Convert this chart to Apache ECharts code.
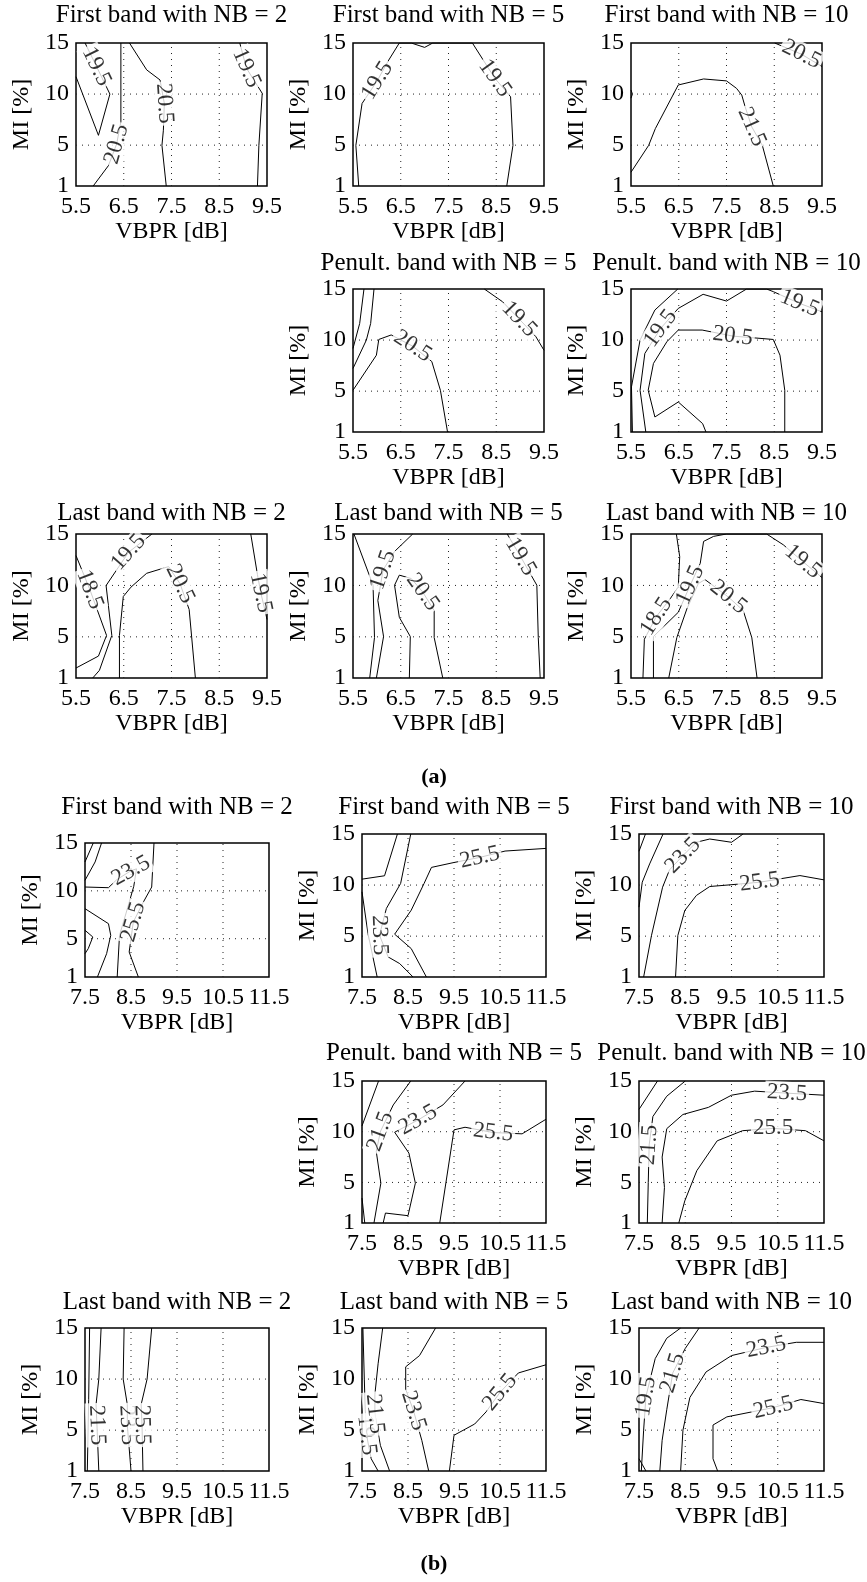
<!DOCTYPE html>
<html>
<head>
<meta charset="utf-8">
<script src="https://cdn.jsdelivr.net/npm/echarts@6/dist/echarts.min.js"></script>
<style>
  html, body { margin: 0; padding: 0; background: #fff; }
  #c { width: 867px; height: 1582px; }
</style>
</head>
<body>
<div id="c"></div>
<script>
// ---- tick values ----
const vbprTicksA = [5.5, 6.5, 7.5, 8.5, 9.5];
const vbprTicksB = [7.5, 8.5, 9.5, 10.5, 11.5];
const miTicks = [1, 5, 10, 15];

// ---- panel titles ----
const titlesA = ['First band with NB = 2', 'First band with NB = 5', 'First band with NB = 10',
                 'Penult. band with NB = 5', 'Penult. band with NB = 10',
                 'Last band with NB = 2', 'Last band with NB = 5', 'Last band with NB = 10'];
const titlesB = titlesA.slice();

// ---- contour lines: level, polyline [VBPR dB, MI %], indices of labelled vertices ----
// (a) first band
const aFirst2 = [
  { level: 19.5, lab: [3], pts: [[5.5, 11.7], [5.97, 5.96], [6.21, 10.0], [5.93, 12.7], [5.69, 15]] },
  { level: 20.5, lab: [2], pts: [[5.86, 1], [6.18, 3.0], [6.35, 5.1], [6.44, 7.28], [6.44, 15]] },
  { level: 20.5, lab: [3], pts: [[6.62, 15], [6.98, 12.37], [7.26, 11.38], [7.35, 9.08], [7.33, 6.46], [7.30, 4.98], [7.39, 1]] },
  { level: 19.5, lab: [1], pts: [[8.93, 15], [9.07, 12.53], [9.40, 10.07], [9.33, 4.98], [9.30, 1]] }
];
const aFirst5 = [
  { level: 19.5, lab: [3, 10], pts: [[5.62, 1], [5.56, 4.98], [5.69, 9.08], [6.01, 11.32], [6.23, 13.19], [6.47, 15], [6.72, 15], [7.0, 14.57], [7.17, 15], [8.0, 15], [8.47, 11.55], [8.80, 9.74], [8.85, 4.98], [8.72, 1]] }
];
const aFirst10 = [
  { level: 21.5, lab: [9], pts: [[5.5, 2.35], [5.87, 4.98], [6.01, 6.62], [6.49, 10.89], [7.02, 11.48], [7.50, 11.29], [7.71, 10.56], [7.82, 9.9], [7.89, 8.76], [8.03, 6.78], [8.25, 4.98], [8.48, 1]] },
  { level: 20.5, lab: [1], pts: [[8.51, 15], [9.07, 13.9], [9.5, 12.7]] },
  { level: 21.5, lab: [], pts: [[5.5, 10.4], [5.53, 10.0], [5.5, 9.6]] }
];
// (a) penultimate band
const aPenult5 = [
  { level: 18.5, lab: [], pts: [[5.5, 9.18], [5.64, 11.63], [5.73, 15]] },
  { level: 19.5, lab: [], pts: [[5.5, 7.22], [5.78, 10.0], [5.87, 11.63], [5.94, 15]] },
  { level: 20.5, lab: [4], pts: [[5.5, 5.09], [5.99, 8.52], [6.04, 10.06], [6.30, 10.5], [6.75, 9.4], [7.15, 7.9], [7.33, 5.09], [7.48, 1]] },
  { level: 19.5, lab: [2], pts: [[8.25, 15], [8.63, 13.76], [8.98, 12.06], [9.33, 10.33], [9.5, 9.0]] }
];
const aPenult10 = [
  { level: 18.5, lab: [], pts: [[5.53, 1], [5.51, 5.42], [5.69, 10.0], [6.0, 12.94], [6.48, 15]] },
  { level: 19.5, lab: [3, 10], pts: [[5.81, 1], [5.69, 5.09], [5.79, 8.69], [6.12, 11.14], [6.49, 13.1], [7.01, 14.48], [7.5, 13.82], [7.92, 15], [8.34, 15], [8.48, 14.74], [9.03, 13.59], [9.5, 12.77]] },
  { level: 20.5, lab: [9], pts: [[7.07, 1], [7.0, 1.82], [6.49, 3.94], [6.0, 2.47], [5.86, 5.09], [5.97, 7.71], [6.25, 9.83], [6.49, 10.98], [6.99, 10.98], [7.63, 10.39], [8.48, 10.06], [8.62, 8.52], [8.72, 5.09], [8.72, 1]] }
];
// (a) last band
const aLast2 = [
  { level: 18.5, lab: [1], pts: [[5.5, 12.9], [5.79, 9.6], [6.14, 5.14], [5.97, 3.13], [5.5, 1.97]] },
  { level: 19.5, lab: [4], pts: [[5.85, 1], [5.99, 1.74], [6.25, 5.14], [6.13, 9.99], [6.6, 13.22], [7.09, 15]] },
  { level: 20.5, lab: [6], pts: [[6.41, 1], [6.41, 5.14], [6.49, 8.92], [6.65, 9.83], [6.98, 11.18], [7.44, 11.83], [7.68, 10.15], [7.87, 7.66], [8.0, 1]] },
  { level: 19.5, lab: [2], pts: [[9.16, 15], [9.30, 11.05], [9.37, 9.28], [9.47, 7.34], [9.5, 6.69]] }
];
const aLast5 = [
  { level: 18.5, lab: [], pts: [[5.52, 15], [5.92, 10.02], [5.95, 4.93], [5.85, 1]] },
  { level: 19.5, lab: [3], pts: [[5.99, 1], [6.14, 5.03], [6.02, 8.54], [6.13, 11.5], [6.37, 13.3], [6.75, 15]] },
  { level: 20.5, lab: [6], pts: [[6.68, 1], [6.70, 5.03], [6.47, 6.9], [6.37, 10.02], [6.47, 11.0], [6.72, 10.67], [6.96, 9.36], [7.20, 7.56], [7.20, 4.93], [7.38, 1]] },
  { level: 19.5, lab: [1], pts: [[8.73, 15], [9.01, 12.8], [9.35, 10.02], [9.38, 4.93], [9.42, 1]] }
];
const aLast10 = [
  { level: 18.5, lab: [2], pts: [[5.75, 1], [5.78, 4.77], [6.03, 6.97], [6.32, 8.7], [6.49, 9.85], [6.52, 12.8], [6.45, 15]] },
  { level: 19.5, lab: [3, 10], pts: [[5.97, 1], [5.97, 5.03], [6.49, 7.39], [6.74, 10.02], [6.95, 12.15], [7.02, 14.28], [7.23, 14.77], [7.5, 15], [8.34, 15], [8.69, 13.95], [9.1, 12.31], [9.5, 10.77]] },
  { level: 20.5, lab: [5], pts: [[6.29, 1], [6.46, 4.93], [6.67, 7.72], [6.91, 10.18], [7.05, 10.57], [7.54, 8.87], [7.85, 7.56], [8.03, 4.93], [8.14, 1]] }
];

// (b) first band
const bFirst2 = [
  { level: 19.5, lab: [], pts: [[7.5, 13.02], [7.68, 15]] },
  { level: 21.5, lab: [], pts: [[7.5, 11.1], [7.72, 13.02], [7.86, 15]] },
  { level: 23.5, lab: [3], pts: [[7.5, 10.4], [8.01, 10.33], [8.19, 11.17], [8.5, 12.1], [8.62, 12.3], [8.56, 10.47], [8.40, 7.79], [8.25, 5.35], [8.2, 1]] },
  { level: 25.5, lab: [3], pts: [[9.0, 15], [8.95, 10.4], [8.77, 8.84], [8.55, 6.75], [8.46, 3.61], [8.66, 1]] },
  { level: 21.5, lab: [], pts: [[7.5, 8.14], [8.01, 6.57], [8.06, 5.35], [7.97, 3.44], [7.77, 1]] },
  { level: 19.5, lab: [], pts: [[7.5, 5.88], [7.67, 5.18], [7.57, 3.96], [7.5, 3.44]] }
];
const bFirst5 = [
  { level: 21.5, lab: [], pts: [[7.5, 10.58], [7.99, 10.91], [8.27, 15]] },
  { level: 23.5, lab: [3], pts: [[8.56, 15], [8.34, 10.16], [8.03, 7.71], [7.88, 5.09], [8.07, 2.96], [8.32, 2.31], [8.61, 1]] },
  { level: 25.5, lab: [2], pts: [[11.5, 13.59], [10.61, 13.33], [10.06, 12.71], [9.48, 12.19], [9.01, 11.73], [8.85, 10.16], [8.57, 7.54], [8.21, 5.19], [8.57, 3.78], [8.9, 1]] },
  { level: 19.5, lab: [], pts: [[7.5, 9.34], [7.63, 5.25], [7.83, 1]] }
];
const bFirst10 = [
  { level: 19.5, lab: [], pts: [[7.5, 13.31], [7.64, 15]] },
  { level: 21.5, lab: [], pts: [[7.5, 7.84], [7.57, 10.28], [7.73, 12.07], [8.02, 15]] },
  { level: 23.5, lab: [4], pts: [[7.6, 1], [7.77, 5.07], [8.01, 9.79], [8.16, 11.49], [8.45, 12.89], [8.74, 14.19], [9.03, 14.51], [9.5, 14.19], [9.75, 15]] },
  { level: 25.5, lab: [6], pts: [[8.29, 1], [8.34, 5.07], [8.49, 7.51], [8.74, 8.98], [9.03, 9.86], [9.46, 10.02], [10.11, 10.28], [10.98, 10.93], [11.5, 10.51]] }
];
// (b) penultimate band
const bPenult5 = [
  { level: 19.5, lab: [], pts: [[7.5, 10.57], [7.86, 15]] },
  { level: 19.5, lab: [], pts: [[7.5, 3.46], [7.56, 1]] },
  { level: 21.5, lab: [3], pts: [[7.76, 1], [7.91, 4.93], [7.81, 8.05], [7.9, 10.02], [8.18, 12.64], [8.56, 15]] },
  { level: 23.5, lab: [6], pts: [[7.96, 1], [8.01, 1.98], [8.5, 1.72], [8.66, 4.93], [8.52, 7.89], [8.21, 9.95], [8.72, 11.16], [9.26, 12.64], [9.74, 15]] },
  { level: 25.5, lab: [3], pts: [[9.19, 1], [9.5, 10.18], [9.74, 10.44], [10.35, 9.92], [10.98, 9.79], [11.5, 11.23]] }
];
const bPenult10 = [
  { level: 19.5, lab: [], pts: [[7.5, 12.2], [7.9, 15]] },
  { level: 21.5, lab: [2], pts: [[7.68, 1], [7.7, 5], [7.72, 8.7], [7.8, 11.5], [8.1, 13.5], [8.5, 15]] },
  { level: 23.5, lab: [8], pts: [[8.0, 1], [8.05, 4.5], [8.0, 7.5], [8.1, 10.3], [8.45, 11.7], [9.0, 12.4], [9.5, 13.6], [10.0, 14.0], [10.7, 13.8], [11.5, 13.6]] },
  { level: 25.5, lab: [5], pts: [[8.36, 1], [8.49, 3.18], [8.75, 6.16], [9.19, 9.1], [9.74, 10.1], [10.4, 10.33], [11.1, 10.1], [11.5, 9.1]] }
];
// (b) last band
const bLast2 = [
  { level: 19.5, lab: [], pts: [[7.6, 15], [7.58, 8], [7.55, 1]] },
  { level: 21.5, lab: [3], pts: [[7.85, 15], [7.8, 10], [7.74, 7.5], [7.76, 5.5], [7.8, 1]] },
  { level: 23.5, lab: [3], pts: [[8.35, 15], [8.33, 10], [8.42, 7.5], [8.42, 5.5], [8.5, 1]] },
  { level: 25.5, lab: [3], pts: [[8.95, 15], [8.85, 10], [8.72, 7.5], [8.74, 5.5], [8.76, 1]] }
];
const bLast5 = [
  { level: 19.5, lab: [3], pts: [[7.52, 15], [7.55, 10], [7.57, 7], [7.6, 4.5], [7.7, 2.2], [7.85, 1]] },
  { level: 21.5, lab: [3], pts: [[7.95, 15], [7.85, 11.5], [7.78, 8.5], [7.78, 6.6], [7.9, 3.5], [8.1, 1]] },
  { level: 23.5, lab: [4], pts: [[9.1, 15], [8.75, 12.3], [8.45, 11.2], [8.45, 9], [8.62, 6.9], [8.8, 4], [8.95, 1]] },
  { level: 25.5, lab: [4], pts: [[9.4, 1], [9.5, 4.5], [9.95, 5.6], [10.2, 6.8], [10.5, 8.7], [10.9, 10.6], [11.5, 11.4]] }
];
const bLast10 = [
  { level: 19.5, lab: [2], pts: [[7.55, 1], [7.6, 5], [7.65, 8.3], [7.85, 12], [8.1, 14], [8.4, 15]] },
  { level: 21.5, lab: [3], pts: [[7.95, 1], [8.0, 4], [8.1, 7], [8.23, 10.6], [8.5, 13], [8.8, 15]] },
  { level: 17.5, lab: [], pts: [[7.5, 2.2], [7.65, 1]] },
  { level: 23.5, lab: [5], pts: [[8.4, 1], [8.45, 5], [8.6, 8.2], [8.95, 10.7], [9.5, 12.3], [10.25, 13.1], [10.9, 13.6], [11.5, 13.6]] },
  { level: 25.5, lab: [4], pts: [[9.2, 1], [9.1, 2.2], [9.1, 5.5], [9.4, 6.3], [10.4, 7.2], [11.0, 8.0], [11.5, 7.6]] }
];

// ---- layout: [left, top, width, height] of each plot box, title centre y ----
const FONT = '"Liberation Serif", "Times New Roman", serif';
const panels = [
  { sec: 'a', title: titlesA[0], lines: aFirst2,   box: [76, 43, 191, 143],  ty: 15 },
  { sec: 'a', title: titlesA[1], lines: aFirst5,   box: [353, 43, 191, 143], ty: 15 },
  { sec: 'a', title: titlesA[2], lines: aFirst10,  box: [631, 43, 191, 143], ty: 15 },
  { sec: 'a', title: titlesA[3], lines: aPenult5,  box: [353, 289, 191, 143], ty: 263 },
  { sec: 'a', title: titlesA[4], lines: aPenult10, box: [631, 289, 191, 143], ty: 263 },
  { sec: 'a', title: titlesA[5], lines: aLast2,    box: [76, 534, 191, 144], ty: 513 },
  { sec: 'a', title: titlesA[6], lines: aLast5,    box: [353, 534, 191, 144], ty: 513 },
  { sec: 'a', title: titlesA[7], lines: aLast10,   box: [631, 534, 191, 144], ty: 513 },
  { sec: 'b', title: titlesB[0], lines: bFirst2,   box: [85, 843, 184, 134],  ty: 807 },
  { sec: 'b', title: titlesB[1], lines: bFirst5,   box: [362, 834, 184, 143], ty: 807 },
  { sec: 'b', title: titlesB[2], lines: bFirst10,  box: [639, 834, 185, 143], ty: 807 },
  { sec: 'b', title: titlesB[3], lines: bPenult5,  box: [362, 1081, 184, 142], ty: 1053 },
  { sec: 'b', title: titlesB[4], lines: bPenult10, box: [639, 1081, 185, 142], ty: 1053 },
  { sec: 'b', title: titlesB[5], lines: bLast2,    box: [85, 1328, 184, 143], ty: 1302 },
  { sec: 'b', title: titlesB[6], lines: bLast5,    box: [362, 1328, 184, 143], ty: 1302 },
  { sec: 'b', title: titlesB[7], lines: bLast10,   box: [639, 1328, 185, 143], ty: 1302 }
];

const txt = { color: '#000', fontFamily: FONT, fontSize: 24 };
const grids = [], xAxes = [], yAxes = [], series = [], graphics = [];

panels.forEach((p, i) => {
  const [left, top, w, h] = p.box;
  const xt = p.sec === 'a' ? vbprTicksA : vbprTicksB;
  const xmin = xt[0], xmax = xt[xt.length - 1];
  const ymin = miTicks[0], ymax = miTicks[miTicks.length - 1];

  grids.push({ left, top, width: w, height: h, show: true, borderColor: '#000', borderWidth: 1.5,
               backgroundColor: 'transparent' });
  xAxes.push({
    type: 'value', gridIndex: i, min: xmin, max: xmax,
    axisLine: { show: false }, axisTick: { show: false }, splitLine: { show: false },
    axisLabel: Object.assign({ customValues: xt, margin: 9, formatter: v => String(v) }, txt),
    name: 'VBPR [dB]', nameLocation: 'middle', nameGap: 32, nameTextStyle: txt
  });
  yAxes.push({
    type: 'value', gridIndex: i, min: ymin, max: ymax,
    axisLine: { show: false }, axisTick: { show: false }, splitLine: { show: false },
    axisLabel: Object.assign({ customValues: miTicks, margin: 7, formatter: v => String(v) }, txt),
    name: 'MI [%]', nameLocation: 'middle', nameGap: 42, nameRotate: 90, nameTextStyle: txt
  });

  // dotted grid at the inner ticks
  const dotted = { color: '#222', width: 1, type: [1, 5] };
  xt.slice(1, -1).forEach(v => series.push({
    type: 'line', xAxisIndex: i, yAxisIndex: i, data: [[v, ymin], [v, ymax]],
    showSymbol: false, silent: true, lineStyle: dotted, z: 1
  }));
  miTicks.slice(1, -1).forEach(v => series.push({
    type: 'line', xAxisIndex: i, yAxisIndex: i, data: [[xmin, v], [xmax, v]],
    showSymbol: false, silent: true, lineStyle: dotted, z: 1
  }));

  // pixels per data unit, used to orient the inline labels along each line
  const sx = w / (xmax - xmin), sy = h / (ymax - ymin);
  const labels = [];
  p.lines.forEach(c => {
    series.push({
      type: 'line', xAxisIndex: i, yAxisIndex: i, data: c.pts,
      showSymbol: false, silent: true, z: 3,
      lineStyle: { color: '#000', width: 1 }
    });
    c.lab.forEach(k => {
      const a = c.pts[Math.max(k - 1, 0)], b = c.pts[Math.min(k + 1, c.pts.length - 1)];
      let deg = Math.atan2((b[1] - a[1]) * sy, (b[0] - a[0]) * sx) * 180 / Math.PI;
      if (deg > 90) deg -= 180;
      if (deg <= -90) deg += 180;
      labels.push({ value: [c.pts[k][0], c.pts[k][1], c.level], label: { rotate: deg } });
    });
  });
  series.push({
    type: 'scatter', xAxisIndex: i, yAxisIndex: i, data: labels, symbolSize: 1, silent: true, z: 5,
    itemStyle: { color: 'rgba(0,0,0,0)' },
    label: {
      show: true, position: 'inside', color: '#000', fontFamily: FONT, fontSize: 23,
      backgroundColor: '#fff', padding: [0, 2],
      formatter: q => q.value[2].toFixed(1)
    }
  });

  graphics.push({
    type: 'text', x: left + w / 2, y: p.ty, silent: true,
    style: { text: p.title, font: '25px ' + FONT, fill: '#000', align: 'center', verticalAlign: 'middle',
             textAlign: 'center', textVerticalAlign: 'middle' }
  });
});

// sub-figure captions
[['(a)', 777], ['(b)', 1564]].forEach(([t, y]) => graphics.push({
  type: 'text', x: 434, y, silent: true,
  style: { text: t, font: 'bold 22px ' + FONT, fill: '#000', align: 'center', verticalAlign: 'middle',
           textAlign: 'center', textVerticalAlign: 'middle' }
}));

const chart = echarts.init(document.getElementById('c'));
chart.setOption({
  animation: false,
  backgroundColor: '#fff',
  grid: grids, xAxis: xAxes, yAxis: yAxes, series, graphic: graphics
});
</script>
</body>
</html>
